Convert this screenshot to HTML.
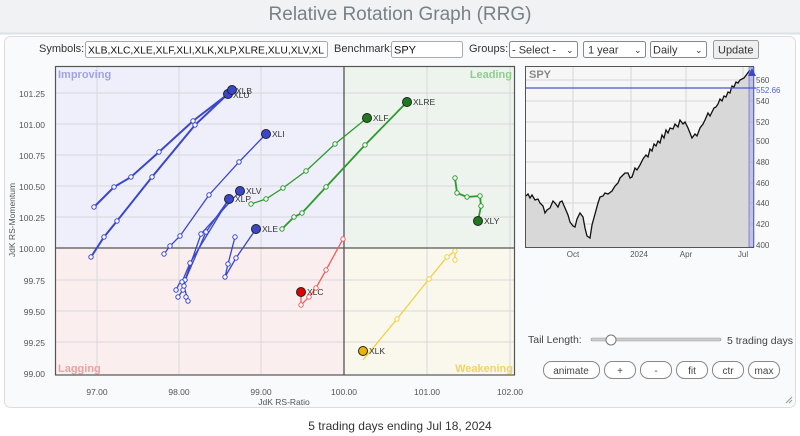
<!DOCTYPE html>
<html><head><meta charset="utf-8"><style>
html,body{margin:0;padding:0;width:800px;height:436px;overflow:hidden;background:#fff;font-family:"Liberation Sans",sans-serif}
</style></head><body>
<svg width="800" height="436" xmlns="http://www.w3.org/2000/svg" font-family="Liberation Sans, sans-serif">
<defs><clipPath id="sc"><rect x="86" y="42" width="240" height="15"/></clipPath></defs>
<rect x="0" y="0" width="800" height="34" fill="#f0f2f4"/>
<line x1="0" y1="33.5" x2="800" y2="33.5" stroke="#dde1e5" stroke-width="2"/>
<text x="400" y="20" text-anchor="middle" font-size="19" fill="#7a8088">Relative Rotation Graph (RRG)</text>
<rect x="4.5" y="36.5" width="791" height="371" rx="6" fill="#f9fafb" stroke="#dcdcdc"/>
<g font-size="11" fill="#333">
<text x="39" y="52">Symbols:</text>
<rect x="85.5" y="41.5" width="242" height="16" fill="#fff" stroke="#aaa" rx="2"/>
<text x="88" y="53.5" font-size="10.5" fill="#111" clip-path="url(#sc)" textLength="236" lengthAdjust="spacingAndGlyphs">XLB,XLC,XLE,XLF,XLI,XLK,XLP,XLRE,XLU,XLV,XL</text>
<text x="334" y="52">Benchmark:</text>
<rect x="391.5" y="41.5" width="71" height="16" fill="#fff" stroke="#aaa" rx="2"/>
<text x="394" y="53.5" fill="#111">SPY</text>
<text x="469" y="52">Groups:</text>
<rect x="509.5" y="41.5" width="68" height="16" fill="#fff" stroke="#888" rx="2"/>
<text x="512" y="53.5">- Select -</text><text x="566" y="53" font-size="9">⌄</text>
<rect x="583.5" y="41.5" width="62" height="16" fill="#fff" stroke="#888" rx="2"/>
<text x="588" y="53.5">1 year</text><text x="634" y="53" font-size="9">⌄</text>
<rect x="650.5" y="41.5" width="56" height="16" fill="#fff" stroke="#888" rx="2"/>
<text x="653" y="53.5">Daily</text><text x="695" y="53" font-size="9">⌄</text>
<rect x="713.5" y="40.5" width="45" height="18" fill="#eee" stroke="#999" rx="2"/>
<text x="718" y="53.5">Update</text>
</g>
<rect x="55" y="66" width="289" height="182" fill="#eeeffa"/>
<rect x="344" y="66" width="171" height="182" fill="#edf4ed"/>
<rect x="55" y="248" width="289" height="127" fill="#fbeeee"/>
<rect x="344" y="248" width="171" height="127" fill="#faf7ed"/>
<g stroke="#d8d8dc" stroke-width="1">
<line x1="97" y1="66" x2="97" y2="375"/><line x1="179" y1="66" x2="179" y2="375"/><line x1="261" y1="66" x2="261" y2="375"/><line x1="427" y1="66" x2="427" y2="375"/><line x1="510" y1="66" x2="510" y2="375"/>
<line x1="55" y1="93" x2="515" y2="93"/><line x1="55" y1="124" x2="515" y2="124"/><line x1="55" y1="155" x2="515" y2="155"/><line x1="55" y1="186" x2="515" y2="186"/><line x1="55" y1="217" x2="515" y2="217"/><line x1="55" y1="280" x2="515" y2="280"/><line x1="55" y1="311" x2="515" y2="311"/><line x1="55" y1="342" x2="515" y2="342"/>
</g>
<line x1="344" y1="66" x2="344" y2="375" stroke="#555" stroke-width="1.3"/>
<line x1="55" y1="248" x2="515" y2="248" stroke="#555" stroke-width="1.3"/>
<rect x="55.5" y="66.5" width="459" height="308.5" fill="none" stroke="#555" stroke-width="1.2"/>
<g font-size="11" font-weight="bold">
<text x="58" y="78" fill="#9fa3e6">Improving</text>
<text x="512" y="78" fill="#8fcd8f" text-anchor="end">Leading</text>
<text x="58" y="372" fill="#f0a0a0">Lagging</text>
<text x="513" y="372" fill="#f2d462" text-anchor="end">Weakening</text>
</g>
<g font-size="8.5" fill="#555" text-anchor="end">
<text x="45" y="97">101.25</text><text x="45" y="128">101.00</text><text x="45" y="159">100.75</text><text x="45" y="190">100.50</text><text x="45" y="221">100.25</text><text x="45" y="252">100.00</text><text x="45" y="284">99.75</text><text x="45" y="315">99.50</text><text x="45" y="346">99.25</text><text x="45" y="377">99.00</text>
</g>
<g font-size="8.5" fill="#555" text-anchor="middle">
<text x="97" y="395">97.00</text><text x="179" y="395">98.00</text><text x="261" y="395">99.00</text><text x="344" y="395">100.00</text><text x="427" y="395">101.00</text><text x="510" y="395">102.00</text>
<text x="284" y="405">JdK RS-Ratio</text>
</g>
<text transform="translate(15,220) rotate(-90)" font-size="8.5" fill="#555" text-anchor="middle">JdK RS-Momentum</text>
<g fill="#fff" stroke-width="1.3">
<g stroke="#3a46cc">
<polyline fill="none" stroke-width="2" points="94,207 114,187 131,177 159,152 193,121 228,94"/>
<polyline fill="none" stroke-width="2" points="91,257 104,237 117,221 152,177 195,125 232,90"/>
<polyline fill="none" points="164,254 170,246 180,236 209,195 239,162 266,134"/>
<polyline fill="none" points="178,297 183,290 185,280 201,234 240,191"/>
<polyline fill="none" points="186,297 188,301 184,286 187,276 206,232 229,199"/>
<polyline fill="none" points="176,290 179,284 182,282 190,263 229,199"/>
<polyline fill="none" points="235,237 228,264 225,277 236,258 256,229"/>
</g>
<g stroke="#3a46cc" stroke-width="1">
<circle cx="94" cy="207" r="2.2"/><circle cx="114" cy="187" r="2.2"/><circle cx="131" cy="177" r="2.2"/><circle cx="159" cy="152" r="2.2"/><circle cx="193" cy="121" r="2.2"/>
<circle cx="91" cy="257" r="2.2"/><circle cx="104" cy="237" r="2.2"/><circle cx="117" cy="221" r="2.2"/><circle cx="152" cy="177" r="2.2"/><circle cx="195" cy="125" r="2.2"/>
<circle cx="164" cy="254" r="2.2"/><circle cx="170" cy="246" r="2.2"/><circle cx="180" cy="236" r="2.2"/><circle cx="209" cy="195" r="2.2"/><circle cx="239" cy="162" r="2.2"/>
<circle cx="178" cy="297" r="2.2"/><circle cx="183" cy="290" r="2.2"/><circle cx="185" cy="280" r="2.2"/><circle cx="201" cy="234" r="2.2"/>
<circle cx="186" cy="297" r="2.2"/><circle cx="188" cy="301" r="2.2"/><circle cx="184" cy="286" r="2.2"/><circle cx="206" cy="232" r="2.2"/>
<circle cx="176" cy="290" r="2.2"/><circle cx="182" cy="282" r="2.2"/><circle cx="190" cy="263" r="2.2"/>
<circle cx="235" cy="237" r="2.2"/><circle cx="228" cy="264" r="2.2"/><circle cx="225" cy="277" r="2.2"/><circle cx="236" cy="258" r="2.2"/>
</g>
<g stroke="#2e9a2e">
<polyline fill="none" points="251,204 266,199 283,188 306,171 335,144 367,118"/>
<polyline fill="none" stroke-width="1.8" points="282,229 294,217 302,213 326,187 365,145 407,102"/>
<polyline fill="none" stroke-width="1.8" points="455,178 457,193 467,197 480,196 481,206 478,221"/>
</g>
<g stroke="#2e9a2e" stroke-width="1">
<circle cx="251" cy="204" r="2.2"/><circle cx="266" cy="199" r="2.2"/><circle cx="283" cy="188" r="2.2"/><circle cx="306" cy="171" r="2.2"/><circle cx="335" cy="144" r="2.2"/>
<circle cx="282" cy="229" r="2.2"/><circle cx="294" cy="217" r="2.2"/><circle cx="302" cy="213" r="2.2"/><circle cx="326" cy="187" r="2.2"/><circle cx="365" cy="145" r="2.2"/>
<circle cx="455" cy="178" r="2.2"/><circle cx="457" cy="193" r="2.2"/><circle cx="467" cy="197" r="2.2"/><circle cx="480" cy="196" r="2.2"/><circle cx="481" cy="206" r="2.2"/>
</g>
<polyline fill="none" stroke="#f0d040" points="455,260 455,251 447,257 429,279 397,319 363,360"/>
<g stroke="#f0d040" stroke-width="1"><circle cx="455" cy="260" r="2.2"/><circle cx="455" cy="251" r="2.2"/><circle cx="447" cy="257" r="2.2"/><circle cx="429" cy="279" r="2.2"/><circle cx="397" cy="319" r="2.2"/></g>
<polyline fill="none" stroke="#ee6060" points="343,239 326,270 316,288 309,297 301,305 301,295"/>
<g stroke="#ee6060" stroke-width="1"><circle cx="343" cy="239" r="2.2"/><circle cx="326" cy="270" r="2.2"/><circle cx="316" cy="288" r="2.2"/><circle cx="309" cy="297" r="2.2"/><circle cx="301" cy="305" r="2.2"/></g>
</g>
<g stroke="#222" stroke-width="1">
<circle cx="228" cy="94" r="4.5" fill="#3a46cc"/><circle cx="232" cy="90" r="4.5" fill="#3a46cc"/>
<circle cx="266" cy="134" r="4.5" fill="#3a46cc"/><circle cx="240" cy="191" r="4.5" fill="#3a46cc"/>
<circle cx="229" cy="199" r="4.5" fill="#3a46cc"/><circle cx="256" cy="229" r="4.5" fill="#3a46cc"/>
<circle cx="367" cy="118" r="4.5" fill="#1e7a1e"/><circle cx="407" cy="102" r="4.5" fill="#1e7a1e"/><circle cx="478" cy="221" r="4.5" fill="#1e7a1e"/>
<circle cx="363" cy="351" r="4.5" fill="#e8b400"/><circle cx="301" cy="292" r="4.5" fill="#e00000"/>
</g>
<g font-size="8.5" fill="#333">
<text x="236" y="94">XLB</text><text x="233" y="98">XLU</text><text x="272" y="137">XLI</text><text x="246" y="194">XLV</text><text x="235" y="202">XLP</text><text x="262" y="232">XLE</text>
<text x="373" y="121">XLF</text><text x="413" y="105">XLRE</text><text x="484" y="224">XLY</text><text x="369" y="354">XLK</text><text x="307" y="295">XLC</text>
</g>
<rect x="525.5" y="66.5" width="228" height="181" fill="#f6f6f6" stroke="#555"/>
<g stroke="#d6d6d6"><line x1="573" y1="67" x2="573" y2="247"/><line x1="631" y1="67" x2="631" y2="247"/><line x1="686" y1="67" x2="686" y2="247"/><line x1="743" y1="67" x2="743" y2="247"/>
<line x1="526" y1="80" x2="753" y2="80"/><line x1="526" y1="101" x2="753" y2="101"/><line x1="526" y1="122" x2="753" y2="122"/><line x1="526" y1="141" x2="753" y2="141"/><line x1="526" y1="162" x2="753" y2="162"/><line x1="526" y1="183" x2="753" y2="183"/><line x1="526" y1="203" x2="753" y2="203"/><line x1="526" y1="224" x2="753" y2="224"/></g>
<polygon fill="#d8d8d8" points="526,196 528,194 530,198 532,195 535,200 538,199 540,203 543,206 545,213 547,210 550,208 553,201 555,203 558,207 560,202 562,201 565,208 568,215 570,222 573,226 575,227 577,219 580,213 583,217 585,228 587,236 590,238 592,225 595,214 598,203 600,197 603,196 605,193 608,194 612,191 615,186 618,183 620,178 623,175 625,173 628,173 630,178 632,177 635,168 637,170 640,165 643,159 646,155 648,157 650,149 652,151 654,144 656,146 658,141 660,143 662,135 664,138 666,130 668,133 670,128 673,129 675,124 678,127 680,120 683,124 685,122 688,128 690,133 692,138 695,134 697,136 700,128 703,124 705,120 708,113 710,116 712,112 714,108 716,107 718,104 720,99 722,101 724,96 726,97 728,92 730,93 732,86 734,87 736,82 738,83 740,80 744,78 747,74 750,70 750,247 526,247"/>
<polyline fill="none" stroke="#111" stroke-width="1.3" points="526,196 528,194 530,198 532,195 535,200 538,199 540,203 543,206 545,213 547,210 550,208 553,201 555,203 558,207 560,202 562,201 565,208 568,215 570,222 573,226 575,227 577,219 580,213 583,217 585,228 587,236 590,238 592,225 595,214 598,203 600,197 603,196 605,193 608,194 612,191 615,186 618,183 620,178 623,175 625,173 628,173 630,178 632,177 635,168 637,170 640,165 643,159 646,155 648,157 650,149 652,151 654,144 656,146 658,141 660,143 662,135 664,138 666,130 668,133 670,128 673,129 675,124 678,127 680,120 683,124 685,122 688,128 690,133 692,138 695,134 697,136 700,128 703,124 705,120 708,113 710,116 712,112 714,108 716,107 718,104 720,99 722,101 724,96 726,97 728,92 730,93 732,86 734,87 736,82 738,83 740,80 744,78 747,74 750,70"/>
<rect x="749" y="67" width="5" height="180" fill="#9aa0e8" opacity="0.6" stroke="#3a46cc" stroke-width="0.8"/>
<line x1="526" y1="88" x2="756" y2="88" stroke="#4a54d0" stroke-width="1.2"/>
<polygon points="748,76 752,68 756,76" fill="#3a46cc"/>
<text x="529" y="78" font-size="11" font-weight="bold" fill="#888">SPY</text>
<g font-size="8" fill="#555">
<text x="756" y="83">560</text><text x="756" y="104">540</text><text x="756" y="125">520</text><text x="756" y="144">500</text><text x="756" y="165">480</text><text x="756" y="186">460</text><text x="756" y="206">440</text><text x="756" y="227">420</text><text x="756" y="248">400</text>
<text x="756" y="93" fill="#5560d8">552.66</text>
<text x="573" y="257" text-anchor="middle">Oct</text><text x="639" y="257" text-anchor="middle">2024</text><text x="686" y="257" text-anchor="middle">Apr</text><text x="743" y="257" text-anchor="middle">Jul</text>
</g>
<text x="528" y="343" font-size="10.5" fill="#444">Tail Length:</text>
<rect x="591" y="338" width="130" height="3" rx="1.5" fill="#ccc" stroke="#999" stroke-width="0.6"/>
<circle cx="611" cy="340" r="5" fill="#fff" stroke="#777"/>
<text x="727" y="344" font-size="10.5" fill="#444">5 trading days</text>
<g font-size="10" fill="#444" text-anchor="middle">
<rect x="543.5" y="361.5" width="56" height="17" rx="8" fill="#fff" stroke="#888"/><text x="571" y="374">animate</text>
<rect x="604.5" y="361.5" width="31" height="17" rx="8" fill="#fff" stroke="#888"/><text x="620" y="374">+</text>
<rect x="640.5" y="361.5" width="31" height="17" rx="8" fill="#fff" stroke="#888"/><text x="656" y="374">-</text>
<rect x="676.5" y="361.5" width="31" height="17" rx="8" fill="#fff" stroke="#888"/><text x="692" y="374">fit</text>
<rect x="712.5" y="361.5" width="31" height="17" rx="8" fill="#fff" stroke="#888"/><text x="728" y="374">ctr</text>
<rect x="748.5" y="361.5" width="31" height="17" rx="8" fill="#fff" stroke="#888"/><text x="764" y="374">max</text>
</g>
<g stroke="#999"><line x1="786" y1="403" x2="792" y2="397"/><line x1="789" y1="403" x2="792" y2="400"/></g>
<text x="400" y="430" font-size="12" fill="#333" text-anchor="middle">5 trading days ending Jul 18, 2024</text>
</svg>
</body></html>
